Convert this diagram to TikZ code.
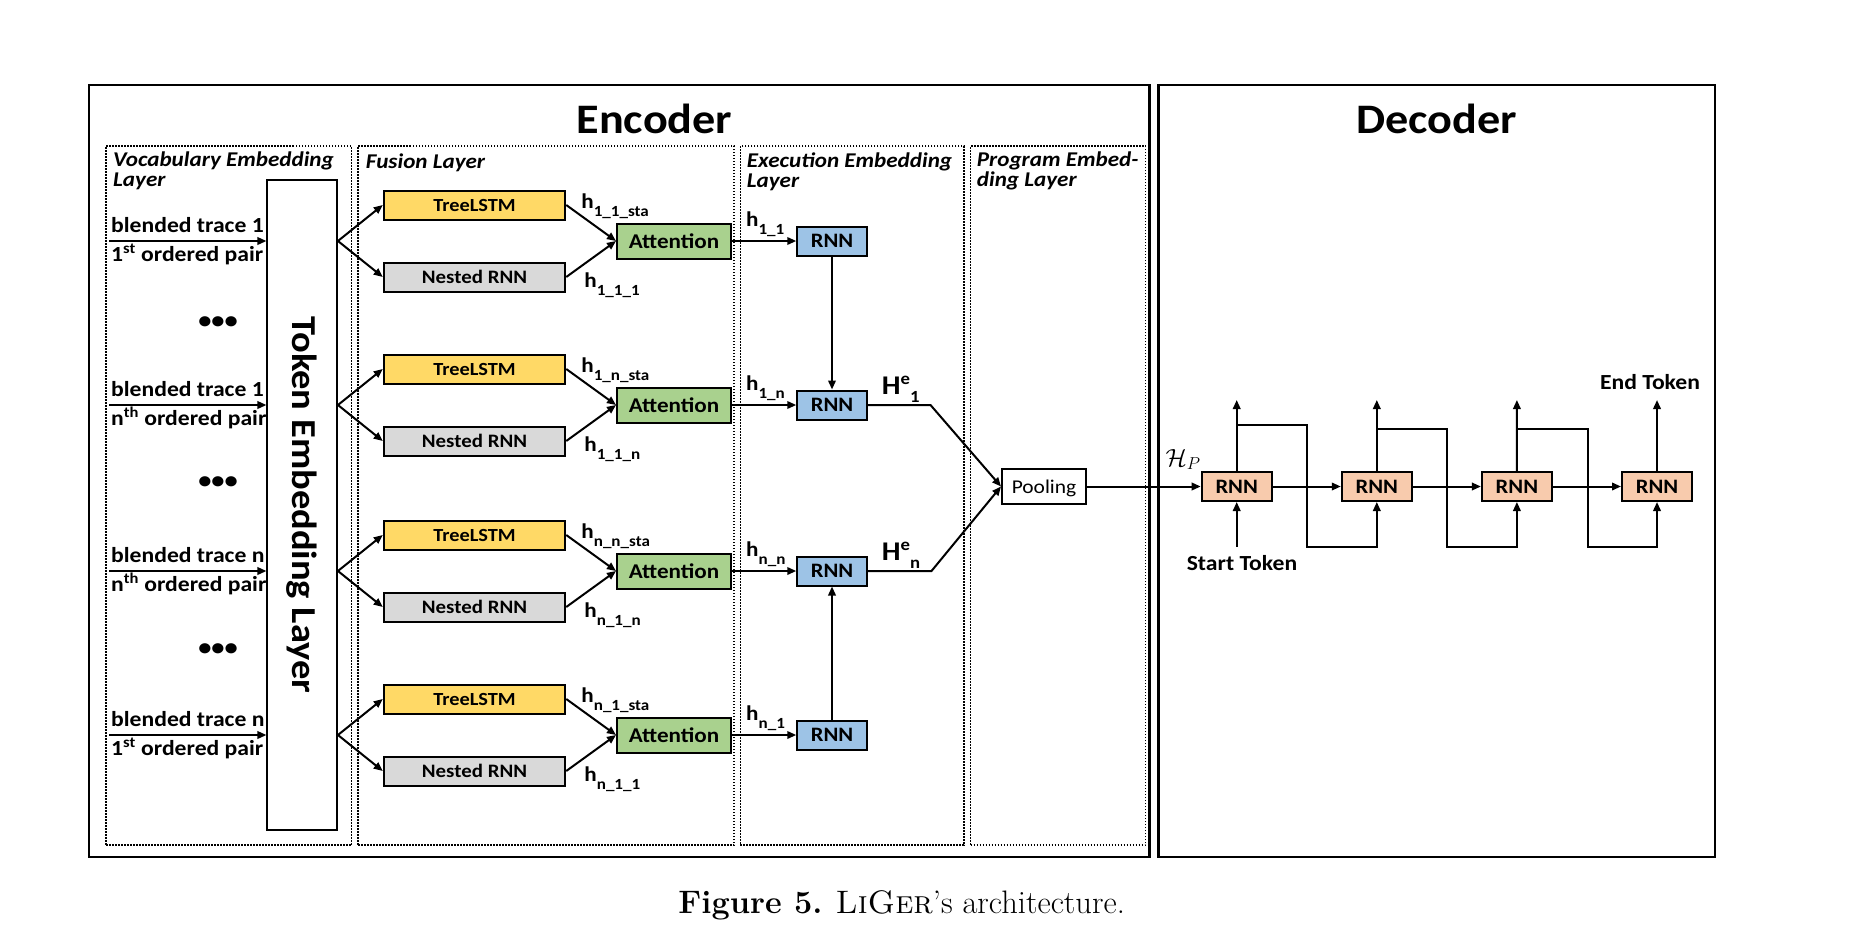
\documentclass[tikz,border=0pt]{standalone}
\usepackage{fontspec}
\newfontfamily\calib[FakeStretch=1.1]{Carlito}
\usetikzlibrary{shapes,arrows,arrows.meta}
\definecolor{treeyellow}{HTML}{FFD966}
\definecolor{nestgray}{HTML}{D9D9D9}
\definecolor{attgreen}{HTML}{A9D18E}
\definecolor{exblue}{HTML}{9DC3E6}
\definecolor{decorange}{HTML}{F8CBAD}
\newcommand{\hsub}[1]{h\raisebox{-0.8ex}{\fontsize{15.5}{15.5}\selectfont #1}}
\newcommand{\Hsup}[1]{H\raisebox{0.75ex}{\fontsize{17}{17}\selectfont e}\raisebox{-0.66ex}{\fontsize{17}{17}\selectfont #1}}

\begin{document}
\begin{tikzpicture}[x=1pt,y=-1pt,
  txt/.style={font=\calib\bfseries\fontsize{21.5}{22}\selectfont, inner sep=0pt},
  frame/.style={draw, line width=2.4pt, inner sep=0pt, minimum height=772pt},
  panel/.style={draw, line width=1.5pt, dash pattern=on 1.5pt off 1.5pt, inner sep=0pt, minimum height=699pt},
  panellab/.style={font=\calib\bfseries\itshape\fontsize{21}{20}\selectfont, align=left, anchor=base west, inner sep=0pt},
  box/.style={draw, line width=2pt, inner sep=0pt, font=\calib\bfseries\fontsize{20.5}{21}\selectfont},
  tree/.style={box, fill=treeyellow, minimum width=181.5pt, minimum height=29pt, font=\calib\bfseries\fontsize{18.5}{19}\selectfont},
  nest/.style={box, fill=nestgray, minimum width=181.5pt, minimum height=29pt, font=\calib\bfseries\fontsize{19}{19}\selectfont},
  att/.style={box, fill=attgreen, minimum width=114pt, minimum height=35pt, font=\calib\bfseries\fontsize{21}{21}\selectfont},
  exrnn/.style={box, fill=exblue, minimum width=69.5pt, minimum height=29pt},
  decrnn/.style={box, fill=decorange, minimum width=70pt, minimum height=29pt},
  hlab/.style={font=\calib\bfseries\fontsize{21}{21}\selectfont, inner sep=0pt, anchor=base west},
  Hlab/.style={font=\calib\bfseries\fontsize{27}{27}\selectfont, inner sep=0pt, anchor=south west},
  arr/.style={line width=2pt, -{Triangle[length=9pt,width=7.5pt]}}
]
\useasboundingbox (0,0) rectangle (1856,940);

\node (Enc) [frame, minimum width=1060.5pt] at (619.2,471) {};
\node (Dec) [frame, minimum width=556.5pt] at (1436.7,471) {};
\node (EncTitle) [anchor=base, font=\calib\bfseries\fontsize{42}{42}\selectfont] at (654.4,133.3) {Encoder};
\node (DecTitle) [anchor=base, font=\calib\bfseries\fontsize{42}{42}\selectfont] at (1436.5,133.3) {Decoder};

\node (VocPanel) [panel, minimum width=245.5pt] at (228.75,495.5) {};
\node (FusPanel) [panel, minimum width=376pt] at (546,495.5) {};
\node (ExePanel) [panel, minimum width=223.5pt] at (852.2,495.5) {};
\node (PrgPanel) [panel, minimum width=175pt] at (1058.2,495.5) {};
\node (VocLab) [panellab] at (113,186.7) {Vocabulary Embedding\\Layer};
\node (FusLab) [panellab] at (365.7,168.3) {Fusion Layer};
\node (ExeLab) [panellab] at (746.7,187.3) {Execution Embedding\\Layer};
\node (PrgLab) [panellab] at (976.7,186.7) {Program Embed-\\ding Layer};

\node (Tok) [draw, line width=2pt, minimum width=69.5pt, minimum height=650pt, inner sep=0pt, font=\calib\bfseries\fontsize{35}{35}\selectfont] at (302.2,505) {\rotatebox{-90}{Token Embedding Layer}};

\coordinate (In1) at (109,241);
\coordinate (In2) at (109,405);
\coordinate (In3) at (109,571);
\coordinate (In4) at (109,735);
\node (Bt1) [txt, anchor=base west] at (111,232.5) {blended trace 1};
\node (Op1) [txt, anchor=base west] at (111,261.5) {1\textsuperscript{st} ordered pair};
\node (Bt2) [txt, anchor=base west] at (111,396.5) {blended trace 1};
\node (Op2) [txt, anchor=base west] at (111,425.5) {n\textsuperscript{th} ordered pair};
\node (Bt3) [txt, anchor=base west] at (111,562.5) {blended trace n};
\node (Op3) [txt, anchor=base west] at (111,591.5) {n\textsuperscript{th} ordered pair};
\node (Bt4) [txt, anchor=base west] at (111,726.5) {blended trace n};
\node (Op4) [txt, anchor=base west] at (111,755.5) {1\textsuperscript{st} ordered pair};
\node (Dots1) [txt, font=\calib\bfseries\fontsize{24}{24}\selectfont] at (218,323) {•••};
\node (Dots2) [txt, font=\calib\bfseries\fontsize{24}{24}\selectfont] at (218,483) {•••};
\node (Dots3) [txt, font=\calib\bfseries\fontsize{24}{24}\selectfont] at (218,650) {•••};
\draw [arr] (In1) -- (Tok.west |- In1);
\draw [arr] (In2) -- (Tok.west |- In2);
\draw [arr] (In3) -- (Tok.west |- In3);
\draw [arr] (In4) -- (Tok.west |- In4);

\node (Tree1) [tree] at (474.5,205) {TreeLSTM};
\node (Nest1) [nest, node distance=72pt, below of=Tree1] {Nested RNN};
\node (Att1) [att] at (674,241) {Attention};
\node (ExRnn1) [exrnn] at (832,241) {RNN};
\node (Tree2) [tree] at (474.5,369) {TreeLSTM};
\node (Nest2) [nest, node distance=72pt, below of=Tree2] {Nested RNN};
\node (Att2) [att] at (674,405) {Attention};
\node (ExRnn2) [exrnn] at (832,405) {RNN};
\node (Tree3) [tree] at (474.5,535) {TreeLSTM};
\node (Nest3) [nest, node distance=72pt, below of=Tree3] {Nested RNN};
\node (Att3) [att] at (674,571) {Attention};
\node (ExRnn3) [exrnn] at (832,571) {RNN};
\node (Tree4) [tree] at (474.5,699) {TreeLSTM};
\node (Nest4) [nest, node distance=72pt, below of=Tree4] {Nested RNN};
\node (Att4) [att] at (674,735) {Attention};
\node (ExRnn4) [exrnn] at (832,735) {RNN};

\node (hT1) [hlab, xshift=15pt, yshift=-3.5pt] at (Tree1.east) {\hsub{1\_1\_sta}};
\node (hN1) [hlab, xshift=18pt, yshift=-10.5pt] at (Nest1.east) {\hsub{1\_1\_1}};
\node (hE1) [hlab, xshift=14pt, yshift=15pt] at (Att1.east) {\hsub{1\_1}};
\node (hT2) [hlab, xshift=15pt, yshift=-3.5pt] at (Tree2.east) {\hsub{1\_n\_sta}};
\node (hN2) [hlab, xshift=18pt, yshift=-10.5pt] at (Nest2.east) {\hsub{1\_1\_n}};
\node (hE2) [hlab, xshift=14pt, yshift=15pt] at (Att2.east) {\hsub{1\_n}};
\node (hT3) [hlab, xshift=15pt, yshift=-3.5pt] at (Tree3.east) {\hsub{n\_n\_sta}};
\node (hN3) [hlab, xshift=18pt, yshift=-10.5pt] at (Nest3.east) {\hsub{n\_1\_n}};
\node (hE3) [hlab, xshift=14pt, yshift=15pt] at (Att3.east) {\hsub{n\_n}};
\node (hT4) [hlab, xshift=15pt, yshift=-3.5pt] at (Tree4.east) {\hsub{n\_1\_sta}};
\node (hN4) [hlab, xshift=18pt, yshift=-10.5pt] at (Nest4.east) {\hsub{n\_1\_1}};
\node (hE4) [hlab, xshift=14pt, yshift=15pt] at (Att4.east) {\hsub{n\_1}};

\draw [arr] (Tok.east |- Att1) -- (Tree1.west);
\draw [arr] (Tok.east |- Att1) -- (Nest1.west);
\draw [arr] (Tok.east |- Att2) -- (Tree2.west);
\draw [arr] (Tok.east |- Att2) -- (Nest2.west);
\draw [arr] (Tok.east |- Att3) -- (Tree3.west);
\draw [arr] (Tok.east |- Att3) -- (Nest3.west);
\draw [arr] (Tok.east |- Att4) -- (Tree4.west);
\draw [arr] (Tok.east |- Att4) -- (Nest4.west);
\draw [arr] (Tree1.east) -- (Att1.west);
\draw [arr] (Nest1.east) -- (Att1.west);
\draw [arr] (Tree2.east) -- (Att2.west);
\draw [arr] (Nest2.east) -- (Att2.west);
\draw [arr] (Tree3.east) -- (Att3.west);
\draw [arr] (Nest3.east) -- (Att3.west);
\draw [arr] (Tree4.east) -- (Att4.west);
\draw [arr] (Nest4.east) -- (Att4.west);
\draw [arr] (Att1) -- (ExRnn1);
\draw [arr] (Att2) -- (ExRnn2);
\draw [arr] (Att3) -- (ExRnn3);
\draw [arr] (Att4) -- (ExRnn4);
\draw [arr] (ExRnn1) -- (ExRnn2);
\draw [arr] (ExRnn4) -- (ExRnn3);

\node (Pool) [box, fill=white, minimum width=84pt, minimum height=35pt, font=\calib\fontsize{19.5}{20}\selectfont, text depth=0pt] at (1044,486.5) {Pooling};
\coordinate (Bend1) at (930.5,405);
\coordinate (Bend2) at (931.5,571);
\draw [arr] (ExRnn2.east) -- (Bend1) -- (Pool.west);
\draw [arr] (ExRnn3.east) -- (Bend2) -- (Pool.west);
\node (He1) [Hlab, xshift=14pt, yshift=2pt] at (ExRnn2.east) {\Hsup{1}};
\node (Hen) [Hlab, xshift=14pt, yshift=2pt] at (ExRnn3.east) {\Hsup{n}};

\node (DecRnn1) [decrnn] at (1236.7,486.5) {RNN};
\node (DecRnn2) [decrnn, node distance=140.1pt, right of=DecRnn1] {RNN};
\node (DecRnn3) [decrnn, node distance=140.1pt, right of=DecRnn2] {RNN};
\node (DecRnn4) [decrnn, node distance=140.1pt, right of=DecRnn3] {RNN};
\draw [arr] (Pool) -- (DecRnn1);
\node (Hp) [anchor=south east, inner sep=0pt, yshift=1pt, font=\fontsize{27}{27}\selectfont] at (DecRnn1.north west) {$\mathcal{H}_P$};
\draw [arr] (DecRnn1) -- (DecRnn2);
\draw [arr] (DecRnn2) -- (DecRnn3);
\draw [arr] (DecRnn3) -- (DecRnn4);

\coordinate (Out1) at (1236.7,400);
\coordinate (Out2) at (1376.8,400);
\coordinate (Out3) at (1516.9,400);
\coordinate (Out4) at (1657,400);
\draw [arr] (DecRnn1) -- (Out1);
\draw [arr] (DecRnn2) -- (Out2);
\draw [arr] (DecRnn3) -- (Out3);
\draw [arr] (DecRnn4) -- (Out4);
\coordinate (Split1) at (1236.7,425);
\coordinate (Split2) at (1376.8,429);
\coordinate (Split3) at (1516.9,429);
\coordinate (Skip1) at (1306.7,546.7);
\coordinate (Skip2) at (1446.7,546.7);
\coordinate (Skip3) at (1587.7,546.7);
\draw [arr] (Split1) -| (Skip1) -| (DecRnn2);
\draw [arr] (Split2) -| (Skip2) -| (DecRnn3);
\draw [arr] (Split3) -| (Skip3) -| (DecRnn4);
\coordinate (StIn) at (1236.7,546.7);
\draw [arr] (StIn) -- (DecRnn1);
\node (StTok) [txt] at (1242,563) {Start Token};
\node (EndTok) [txt] at (1650,382.5) {End Token};

\node (Cap) [anchor=base, inner sep=0pt, font=\fontsize{32.5}{33}\selectfont] at (901.7,913) {\textbf{Figure 5.} \textsc{LiGer}’s architecture.};

\end{tikzpicture}
\end{document}
